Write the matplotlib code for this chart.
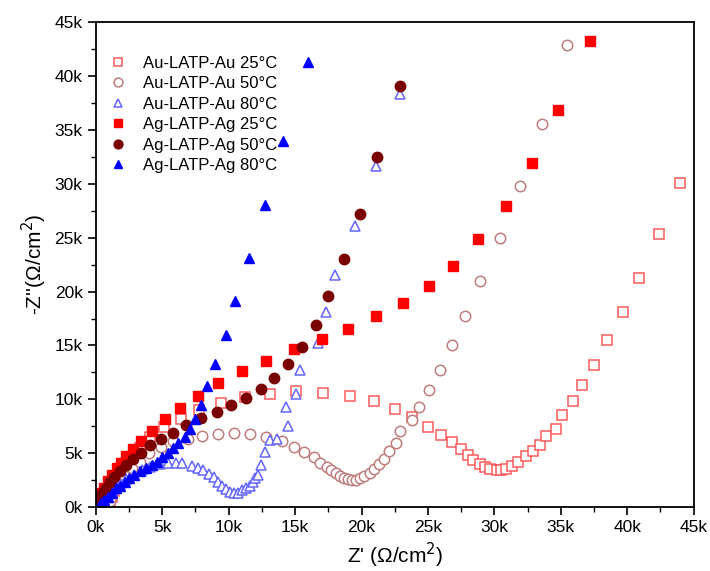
import matplotlib.pyplot as plt
from matplotlib.ticker import MultipleLocator, FuncFormatter

plt.rcParams['font.family'] = ['Liberation Sans', 'DejaVu Sans']

# Au-LATP-Au 25°C (open squares)
au25_x = [1.1, 1.2, 1.4, 1.7, 2.0, 2.4, 2.8, 3.3, 4.1, 5.1, 6.4, 7.8, 9.4, 11.2, 13.1, 15.1,
          17.1, 19.1, 20.9, 22.5, 23.8, 25.0, 26.0, 26.8, 27.5, 28.0, 28.4, 28.9, 29.3, 29.7,
          30.2, 30.5, 30.9, 31.3, 31.8, 32.4, 32.9, 33.4, 33.9, 34.6, 35.1, 35.9, 36.6, 37.5,
          38.5, 39.7, 40.9, 42.4, 44.0]
au25_y = [0.4, 0.9, 1.5, 2.2, 2.9, 3.7, 4.5, 5.5, 6.5, 7.4, 8.2, 9.0, 9.7, 10.2, 10.5, 10.8,
          10.6, 10.3, 9.8, 9.1, 8.4, 7.4, 6.7, 6.0, 5.4, 4.8, 4.4, 4.0, 3.7, 3.55,
          3.45, 3.45, 3.55, 3.8, 4.2, 4.7, 5.2, 5.8, 6.6, 7.2, 8.5, 9.8, 11.3, 13.2,
          15.5, 18.1, 21.3, 25.3, 30.1]

# Au-LATP-Au 50°C (open circles)
au50_x = [1.1, 1.15, 1.3, 1.7, 2.2, 2.7, 3.3, 4.0, 4.9, 5.8, 6.9, 8.0, 9.2, 10.4, 11.6, 12.8,
          14.0, 14.9, 15.7, 16.4, 16.9, 17.4, 17.7, 18.1, 18.4, 18.7, 19.0, 19.3, 19.6, 19.9,
          20.2, 20.6, 20.9, 21.3, 21.7, 22.1, 22.6, 22.9, 23.8, 24.3, 25.1, 25.9, 26.8, 27.8,
          28.9, 30.4, 31.9, 33.6, 35.5]
au50_y = [0.6, 0.95, 1.6, 2.2, 2.9, 3.6, 4.2, 5.0, 5.6, 6.1, 6.3, 6.6, 6.8, 6.9, 6.8, 6.5,
          6.1, 5.6, 5.1, 4.6, 4.1, 3.7, 3.4, 3.2, 2.9, 2.7, 2.6, 2.5, 2.55, 2.7,
          2.9, 3.2, 3.5, 4.0, 4.5, 5.2, 5.9, 7.1, 8.1, 9.3, 10.9, 12.7, 15.0, 17.7,
          21.0, 25.0, 29.8, 35.6, 42.9]

# Au-LATP-Au 80°C (open triangles)
au80_x = [0.2, 0.5, 0.9, 1.3, 1.8, 2.3, 2.9, 3.5, 4.1, 4.8, 5.4, 6.0, 6.5, 7.2, 7.7, 8.1,
          8.5, 8.9, 9.2, 9.5, 9.8, 10.1, 10.4, 10.7, 11.0, 11.3, 11.6, 11.8, 12.0, 12.2,
          12.4, 12.7, 13.1, 13.6, 14.5, 14.3, 15.1, 15.4, 16.7, 17.3, 18.0, 19.5, 21.1, 22.9]
au80_y = [0.2, 0.6, 1.1, 1.6, 2.1, 2.6, 3.0, 3.4, 3.7, 3.95, 4.1, 4.1, 4.05, 3.8, 3.6, 3.4,
          3.1, 2.75, 2.35, 1.95, 1.7, 1.4, 1.3, 1.3, 1.6, 1.8, 2.0, 2.35, 2.7, 3.0,
          3.9, 5.1, 6.2, 6.3, 7.5, 9.3, 10.5, 12.7, 15.2, 18.1, 21.5, 26.1, 31.7, 38.3]

# Ag-LATP-Ag 25°C (filled squares)
ag25_x = [0.1, 0.25, 0.45, 0.65, 0.9, 1.2, 1.6, 1.9, 2.3, 2.8, 3.4, 4.2, 5.2, 6.3, 7.7, 9.2,
          11.0, 12.8, 14.9, 17.0, 19.0, 21.1, 23.1, 25.1, 26.9, 28.8, 30.9, 32.8, 34.8, 37.2]
ag25_y = [0.3, 0.8, 1.3, 1.8, 2.4, 3.0, 3.6, 4.1, 4.7, 5.4, 6.1, 7.1, 8.2, 9.2, 10.3, 11.5,
          12.6, 13.6, 14.7, 15.6, 16.5, 17.7, 18.9, 20.5, 22.4, 24.9, 27.9, 31.9, 36.9, 43.3]

# Ag-LATP-Ag 50°C (filled circles)
ag50_x = [0.1, 0.3, 0.5, 0.75, 1.05, 1.4, 1.8, 2.3, 2.8, 3.4, 4.1, 4.9, 5.8, 6.8, 7.9, 9.1,
          10.2, 11.3, 12.4, 13.4, 14.5, 15.5, 16.6, 17.5, 18.7, 19.9, 21.2, 22.9]
ag50_y = [0.3, 0.8, 1.3, 1.8, 2.3, 2.8, 3.3, 3.9, 4.5, 5.0, 5.8, 6.3, 6.9, 7.6, 8.3, 8.8,
          9.5, 10.1, 11.0, 12.0, 13.3, 14.9, 16.9, 19.6, 23.0, 27.2, 32.5, 39.1]

# Ag-LATP-Ag 80°C (filled triangles)
ag80_x = [0.2, 0.4, 0.65, 0.9, 1.2, 1.5, 1.8, 2.2, 2.5, 2.9, 3.3, 3.8, 4.2, 4.6, 5.0, 5.4,
          5.8, 6.2, 6.7, 7.1, 7.5, 7.9, 8.4, 9.0, 9.8, 10.5, 11.5, 12.7, 14.1, 16.0]
ag80_y = [0.1, 0.35, 0.65, 0.95, 1.3, 1.75, 2.0, 2.35, 2.7, 3.0, 3.3, 3.6, 3.9, 4.2, 4.6, 5.0,
          5.5, 5.9, 6.5, 7.2, 8.2, 9.5, 11.2, 13.3, 16.0, 19.1, 23.1, 28.0, 34.0, 41.3]

labels = ['Au-LATP-Au 25°C', 'Au-LATP-Au 50°C', 'Au-LATP-Au 80°C',
          'Ag-LATP-Ag 25°C', 'Ag-LATP-Ag 50°C', 'Ag-LATP-Ag 80°C']

fig = plt.figure(figsize=(7.1, 5.71), dpi=100)
ax = fig.add_axes([0.135, 0.112, 0.842, 0.849])

k = 1000
ms = 7
ax.plot([v * k for v in au25_x], [v * k for v in au25_y], 's', ls='none', ms=ms - 0.5,
        mfc='white', mec='#ff5a5a', mew=1.1, label=labels[0])
ax.plot([v * k for v in au50_x], [v * k for v in au50_y], 'o', ls='none', ms=ms + 0.5,
        mfc='white', mec='#c07c7c', mew=1.1, label=labels[1])
ax.plot([v * k for v in au80_x], [v * k for v in au80_y], '^', ls='none', ms=ms + 0.5,
        mfc='white', mec='#6464ff', mew=1.1, label=labels[2])
ax.plot([v * k for v in ag25_x], [v * k for v in ag25_y], 's', ls='none', ms=ms - 0.5,
        color='#ff0000', label=labels[3])
ax.plot([v * k for v in ag50_x], [v * k for v in ag50_y], 'o', ls='none', ms=ms + 0.5,
        color='#7a0000', label=labels[4])
ax.plot([v * k for v in ag80_x], [v * k for v in ag80_y], '^', ls='none', ms=ms + 0.5,
        color='#0000ff', label=labels[5])

ax.set_xlim(0, 45000)
ax.set_ylim(0, 45000)
fmt = FuncFormatter(lambda v, p: f"{int(round(v / 1000))}k")
ax.xaxis.set_major_locator(MultipleLocator(5000))
ax.yaxis.set_major_locator(MultipleLocator(5000))
ax.xaxis.set_minor_locator(MultipleLocator(2500))
ax.yaxis.set_minor_locator(MultipleLocator(2500))
ax.xaxis.set_major_formatter(fmt)
ax.yaxis.set_major_formatter(fmt)
ax.tick_params(which='major', direction='out', length=6, width=1.2, labelsize=12.5)
ax.tick_params(which='minor', direction='out', length=3.5, width=1.0)
ax.tick_params(top=False, right=False, which='both')
for s in ax.spines.values():
    s.set_linewidth(1.3)

ax.set_xlabel("Z' (\u03a9/cm$^2$)", fontsize=15, labelpad=4)
ax.set_ylabel("-Z''(\u03a9/cm$^2$)", fontsize=15, labelpad=4)

ax.legend(loc='upper left', bbox_to_anchor=(-0.01, 0.955), frameon=False, fontsize=12,
          handletextpad=0.5, labelspacing=0.33, markerscale=0.85, borderaxespad=0.3)

plt.savefig('out.png', dpi=100)
